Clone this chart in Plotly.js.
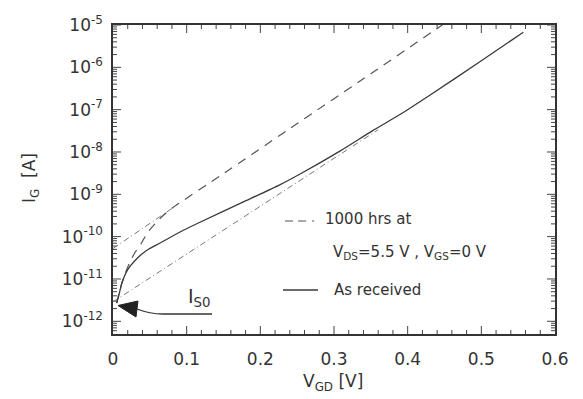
<!DOCTYPE html>
<html>
<head>
<meta charset="utf-8">
<script src="https://cdn.plot.ly/plotly-3.0.1.min.js"></script>
<style>html,body{margin:0;padding:0;background:#fff;}#chart{width:583px;height:399px;}</style>
</head>
<body>
<div id="chart"></div>
<script>
// ---- data ----
// "As received" measured curve (solid)
const vReceived = [0.005, 0.008, 0.012, 0.020, 0.033, 0.046, 0.064, 0.091, 0.118, 0.177, 0.227, 0.254, 0.308, 0.352, 0.390, 0.430, 0.498, 0.557];
const iReceived = [2.69e-12, 4.17e-12, 7.94e-12, 1.66e-11, 3.09e-11, 4.79e-11, 7.08e-11, 1.29e-10, 2.19e-10, 6.61e-10, 1.70e-9, 3.02e-9, 1.05e-8, 3.16e-8, 7.76e-8, 2.19e-7, 1.35e-6, 6.76e-6];
// "1000 hrs at VDS=5.5 V, VGS=0 V" measured curve (dashed)
const vStressed = [0.005, 0.008, 0.012, 0.017, 0.023, 0.030, 0.038, 0.047, 0.057, 0.068, 0.080, 0.15, 0.25, 0.35, 0.447];
const iStressed = [2.69e-12, 4.47e-12, 7.94e-12, 1.41e-11, 2.51e-11, 4.27e-11, 6.76e-11, 1.26e-10, 2.0e-10, 3.16e-10, 4.68e-10, 3.09e-9, 4.68e-8, 7.08e-7, 1.0e-5];
// straight-line extrapolations (dash-dot)
const vFitStressed = [0, 0.08];
const iFitStressed = [5.25e-11, 4.63e-10];
const vFitReceived = [0, 0.36];
const iFitReceived = [2.88e-12, 3.37e-8];
// axes
const xTicks = [0, 0.1, 0.2, 0.3, 0.4, 0.5, 0.6];
const xTickText = ["0", "0.1", "0.2", "0.3", "0.4", "0.5", "0.6"];
const xMinorStep = 0.02;
const yTicks = [1e-12, 1e-11, 1e-10, 1e-9, 1e-8, 1e-7, 1e-6, 1e-5];
const yTickText = ["10<sup>-12</sup>", "10<sup>-11</sup>", "10<sup>-10</sup>", "10<sup>-9</sup>", "10<sup>-8</sup>", "10<sup>-7</sup>", "10<sup>-6</sup>", "10<sup>-5</sup>"];
const X_RANGE = [0, 0.6];
const Y_RANGE = [-12.3, -5];

// ---- layout helpers ----
const L = 113, R = 555, T = 25, B = 334;
const px = x => (x - L) / (R - L);
const py = y => (B - y) / (B - T);
const FONT = "DejaVu Sans";
const TXT = "#333";

// tick marks pointing into the frame on all four sides, drawn as one trace on the chart's own axes
const decadePx = (B - T) / (Y_RANGE[1] - Y_RANGE[0]);
const xUnitsPerPx = (X_RANGE[1] - X_RANGE[0]) / (R - L);
const tkX = [], tkY = [];
const addXTick = (v, len) => {
  const dl = len / decadePx;
  tkX.push(v, v, null, v, v, null);
  tkY.push(Math.pow(10, Y_RANGE[0]), Math.pow(10, Y_RANGE[0] + dl), null,
           Math.pow(10, Y_RANGE[1]), Math.pow(10, Y_RANGE[1] - dl), null);
};
const addYTick = (v, len) => {
  const lv = Math.log10(v);
  if (lv < Y_RANGE[0] || lv > Y_RANGE[1]) return;
  const dx = len * xUnitsPerPx;
  tkX.push(X_RANGE[0], X_RANGE[0] + dx, null, X_RANGE[1], X_RANGE[1] - dx, null);
  tkY.push(v, v, null, v, v, null);
};
for (let k = 1; k * xMinorStep < X_RANGE[1] - 1e-9; k++) {
  const v = +(k * xMinorStep).toFixed(2);
  addXTick(v, Math.abs(v * 10 - Math.round(v * 10)) < 1e-6 ? 8 : 4);
}
for (let d = -13; d <= -5; d++) {
  addYTick(Math.pow(10, d), 8);
  for (let k = 2; k <= 9; k++) addYTick(k * Math.pow(10, d), 4);
}

const traces = [
  {x: tkX, y: tkY, mode: "lines", connectgaps: false, line: {color: "#444", width: 1}, hoverinfo: "skip", cliponaxis: false},
  {x: vFitReceived, y: iFitReceived, mode: "lines", line: {color: "#777", width: 1, dash: "6px,3px,1px,3px"}},
  {x: vFitStressed, y: iFitStressed, mode: "lines", line: {color: "#777", width: 1, dash: "6px,3px,1px,3px"}},
  {x: vStressed, y: iStressed, mode: "lines", line: {color: "#555", width: 1.2, dash: "9px,7px", shape: "spline", smoothing: 0.5}},
  {x: vReceived, y: iReceived, mode: "lines", line: {color: "#3a3a3a", width: 1.3, shape: "spline", smoothing: 0.6}}
];

const layout = {
  width: 583, height: 399,
  margin: {l: L, r: 583 - R, t: T, b: 399 - B},
  paper_bgcolor: "#fff", plot_bgcolor: "rgba(0,0,0,0)",
  showlegend: false,
  font: {family: FONT, color: TXT, size: 17},
  xaxis: {
    range: X_RANGE, tickmode: "array", tickvals: xTicks, ticktext: xTickText, ticks: "",
    showline: true, linecolor: "#333", linewidth: 1.5, mirror: true,
    showgrid: false, zeroline: false, ticklabelstandoff: 9,
    tickfont: {family: FONT, size: 17, color: TXT}
  },
  yaxis: {
    type: "log", range: Y_RANGE, tickmode: "array", tickvals: yTicks, ticktext: yTickText, ticks: "",
    showline: true, linecolor: "#333", linewidth: 1.5, mirror: true,
    showgrid: false, zeroline: false, ticklabelstandoff: 5,
    tickfont: {family: FONT, size: 17, color: TXT}
  },
  annotations: [
    {xref: "paper", yref: "paper", x: px(30), y: py(178), text: "I<sub>G</sub>  [A]", textangle: -90, showarrow: false, xanchor: "center", yanchor: "middle", font: {family: FONT, size: 17, color: TXT}},
    {xref: "paper", yref: "paper", x: px(333), y: py(382), text: "V<sub>GD</sub> [V]", showarrow: false, xanchor: "center", yanchor: "middle", font: {family: FONT, size: 17, color: TXT}},
    {xref: "paper", yref: "paper", x: px(323), y: py(219), text: "1000 hrs at", showarrow: false, xanchor: "left", yanchor: "middle", font: {family: FONT, size: 15, color: TXT}},
    {xref: "paper", yref: "paper", x: px(331), y: py(252), text: "V<sub>DS</sub>=5.5 V , V<sub>GS</sub>=0 V", showarrow: false, xanchor: "left", yanchor: "middle", font: {family: FONT, size: 15, color: TXT}},
    {xref: "paper", yref: "paper", x: px(332), y: py(290), text: "As received", showarrow: false, xanchor: "left", yanchor: "middle", font: {family: FONT, size: 15, color: TXT}},
    {xref: "paper", yref: "paper", x: px(186), y: py(297), text: "I<sub>S0</sub>", showarrow: false, xanchor: "left", yanchor: "middle", font: {family: FONT, size: 19, color: TXT}}
  ],
  shapes: [
    {type: "line", xref: "paper", yref: "paper", x0: px(285), x1: px(321), y0: py(221), y1: py(221), line: {color: "#555", width: 1.2, dash: "8px,5px,8px,6px,2px,100px"}},
    {type: "line", xref: "paper", yref: "paper", x0: px(283), x1: px(318), y0: py(290), y1: py(290), line: {color: "#3a3a3a", width: 1.3}},
    {type: "path", xref: "paper", yref: "paper",
     path: `M ${px(212)} ${py(314)} L ${px(163)} ${py(314)} Q ${px(150)} ${py(314)} ${px(137)} ${py(309)}`,
     line: {color: "#333", width: 1.3}},
    {type: "path", xref: "paper", yref: "paper",
     path: `M ${px(118)} ${py(305.5)} L ${px(138)} ${py(301)} L ${px(136)} ${py(317)} Z`,
     fillcolor: "#222", line: {color: "#222", width: 1}}
  ]
};

Plotly.newPlot("chart", traces, layout, {displayModeBar: false});
</script>
</body>
</html>
